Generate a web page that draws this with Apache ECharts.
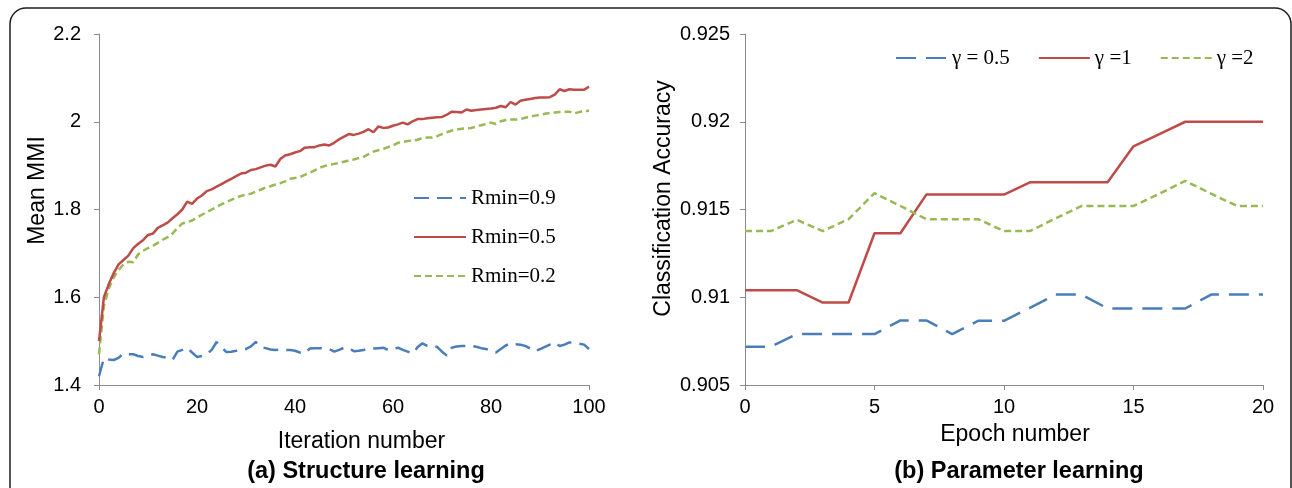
<!DOCTYPE html>
<html>
<head>
<meta charset="utf-8">
<script src="https://cdn.jsdelivr.net/npm/echarts@6/dist/echarts.min.js"></script>
<style>
  html, body { margin: 0; padding: 0; background: #fff; }
  #chart { width: 1292px; height: 488px; }
</style>
</head>
<body>
<div id="chart"></div>
<script>
// (a) Structure learning: mean MMI per iteration, 0..100
const iterations = Array.from({ length: 101 }, (_, i) => String(i));

const rmin09 = [
  1.420, 1.461, 1.458, 1.457, 1.462, 1.472, 1.470, 1.470, 1.466, 1.464,
  1.466, 1.470, 1.467, 1.464, 1.462, 1.457, 1.476, 1.480, 1.485, 1.474,
  1.464, 1.466, 1.470, 1.480, 1.498, 1.486, 1.475, 1.476, 1.478, 1.481,
  1.482, 1.488, 1.498, 1.487, 1.484, 1.481, 1.480, 1.481, 1.480, 1.480,
  1.478, 1.474, 1.472, 1.483, 1.484, 1.484, 1.483, 1.482, 1.476, 1.480,
  1.485, 1.484, 1.477, 1.478, 1.480, 1.482, 1.483, 1.484, 1.485, 1.480,
  1.482, 1.485, 1.480, 1.476, 1.472, 1.486, 1.495, 1.489, 1.488, 1.487,
  1.476, 1.467, 1.485, 1.488, 1.489, 1.489, 1.489, 1.487, 1.484, 1.482,
  1.478, 1.474, 1.482, 1.490, 1.495, 1.493, 1.492, 1.489, 1.483, 1.477,
  1.482, 1.487, 1.492, 1.497, 1.489, 1.492, 1.497, 1.496, 1.494, 1.492,
  1.482
];

const rmin05 = [
  1.500, 1.600, 1.630, 1.655, 1.675, 1.685, 1.695, 1.712, 1.722, 1.730,
  1.742, 1.745, 1.758, 1.764, 1.770, 1.780, 1.789, 1.800, 1.818, 1.813,
  1.825, 1.832, 1.842, 1.846, 1.852, 1.858, 1.864, 1.870, 1.876, 1.882,
  1.884, 1.890, 1.892, 1.896, 1.900, 1.902, 1.898, 1.915, 1.923, 1.926,
  1.930, 1.933, 1.941, 1.942, 1.942, 1.946, 1.948, 1.946, 1.952, 1.960,
  1.966, 1.972, 1.970, 1.973, 1.977, 1.983, 1.976, 1.989, 1.986, 1.987,
  1.991, 1.994, 1.998, 1.994, 2.001, 2.006, 2.006, 2.008, 2.009, 2.010,
  2.011, 2.016, 2.023, 2.022, 2.021, 2.028, 2.025, 2.027, 2.028, 2.029,
  2.030, 2.032, 2.036, 2.033, 2.045, 2.039, 2.048, 2.050, 2.052, 2.054,
  2.055, 2.055, 2.056, 2.062, 2.074, 2.070, 2.074, 2.073, 2.073, 2.073,
  2.080
];

const rmin02 = [
  1.470, 1.580, 1.620, 1.645, 1.662, 1.675, 1.681, 1.680, 1.698, 1.706,
  1.712, 1.717, 1.724, 1.731, 1.737, 1.745, 1.758, 1.768, 1.771, 1.775,
  1.782, 1.788, 1.794, 1.800, 1.806, 1.812, 1.817, 1.822, 1.827, 1.831,
  1.834, 1.836, 1.841, 1.845, 1.850, 1.853, 1.857, 1.860, 1.864, 1.870,
  1.872, 1.874, 1.879, 1.884, 1.889, 1.895, 1.899, 1.902, 1.904, 1.906,
  1.909, 1.912, 1.914, 1.917, 1.920, 1.926, 1.932, 1.935, 1.938, 1.942,
  1.946, 1.952, 1.954, 1.956, 1.957, 1.959, 1.963, 1.964, 1.964, 1.967,
  1.972, 1.976, 1.980, 1.982, 1.984, 1.985, 1.986, 1.989, 1.992, 1.995,
  1.998, 1.995, 2.001, 2.004, 2.005, 2.005, 2.006, 2.009, 2.012, 2.014,
  2.016, 2.018, 2.020, 2.021, 2.022, 2.023, 2.023, 2.019, 2.022, 2.024,
  2.025
];

// (b) Parameter learning: classification accuracy per epoch, 0..20
const epochs = [0, 1, 2, 3, 4, 5, 6, 7, 8, 9, 10, 11, 12, 13, 14, 15, 16, 17, 18, 19, 20];
const gamma05 = [
  0.90718, 0.90718, 0.90790, 0.90790, 0.90790, 0.90790, 0.90868, 0.90868, 0.90790, 0.90866,
  0.90866, 0.90940, 0.91015, 0.91015, 0.90936, 0.90936, 0.90936, 0.90936, 0.91015, 0.91015,
  0.91015
];
const gamma1 = [
  0.91040, 0.91040, 0.91040, 0.90970, 0.90970, 0.91365, 0.91365, 0.91585, 0.91585, 0.91585,
  0.91585, 0.91655, 0.91655, 0.91655, 0.91655, 0.91860, 0.91930, 0.92000, 0.92000, 0.92000,
  0.92000
];
const gamma2 = [
  0.91377, 0.91377, 0.91441, 0.91377, 0.91445, 0.91593, 0.91520, 0.91445, 0.91445, 0.91445,
  0.91377, 0.91377, 0.91450, 0.91520, 0.91520, 0.91520, 0.91590, 0.91663, 0.91590, 0.91520,
  0.91520
];

const leftNames = ['Rmin=0.9', 'Rmin=0.5', 'Rmin=0.2'];
const rightNames = ['\u03b3 = 0.5', '\u03b3 =1', '\u03b3 =2'];

const BLUE = '#4a7ebb';
const RED = '#be4b48';
const GREEN = '#98b954';
const AXIS_GREY = '#8c8c8c';
const SANS = '"Liberation Sans", Arial, sans-serif';
const SERIF = '"Liberation Serif", "Times New Roman", serif';

const tickFont = { color: '#000', fontFamily: SANS, fontSize: 20 };
const nameFont = { color: '#000', fontFamily: SANS, fontSize: 23 };
const titleFont = { fontFamily: SANS, fontSize: 23.5, fontWeight: 'bold', color: '#000' };
const legendFont = { fontFamily: SERIF, fontSize: 21, color: '#000', lineHeight: 22 };
const axisLine = { show: true, lineStyle: { color: AXIS_GREY, width: 1 } };
const axisTick = { show: true, inside: false, length: 5, lineStyle: { color: AXIS_GREY, width: 1 } };

const pair = (xs, ys) => xs.map((x, i) => [x, ys[i]]);

const chart = echarts.init(document.getElementById('chart'), null, { renderer: 'canvas' });

chart.setOption({
  animation: false,
  backgroundColor: '#fff',
  title: [
    { text: '(a) Structure learning', left: 366, top: 460, textAlign: 'center', padding: 0, textStyle: titleFont },
    { text: '(b) Parameter learning', left: 1019, top: 460, textAlign: 'center', padding: 0, textStyle: titleFont }
  ],
  legend: [
    {
      data: leftNames, orient: 'vertical', left: 413, top: 187, padding: 0,
      itemWidth: 52, itemHeight: 14, itemGap: 17,
      itemStyle: { opacity: 0 },
      textStyle: legendFont
    },
    {
      data: rightNames, orient: 'horizontal', left: 895, top: 47, padding: 0,
      itemWidth: 51, itemHeight: 14, itemGap: 28,
      itemStyle: { opacity: 0 },
      textStyle: legendFont
    }
  ],
  grid: [
    { left: 99, top: 34, width: 490, height: 351 },
    { left: 745, top: 34, width: 518, height: 351 }
  ],
  xAxis: [
    {
      gridIndex: 0, type: 'category', data: iterations, boundaryGap: false,
      name: 'Iteration number', nameLocation: 'middle', nameGap: 45,
      nameTextStyle: Object.assign({ padding: [0, 0, 0, 35] }, nameFont),
      axisLine: axisLine,
      axisTick: Object.assign({}, axisTick, { interval: 99 }),
      axisLabel: Object.assign({ margin: 12, interval: 19 }, tickFont),
      splitLine: { show: false }
    },
    {
      gridIndex: 1, type: 'value', min: 0, max: 20, interval: 5,
      name: 'Epoch number', nameLocation: 'middle', nameGap: 38,
      nameTextStyle: Object.assign({ padding: [0, 0, 0, 22] }, nameFont),
      axisLine: axisLine, axisTick: axisTick,
      axisLabel: Object.assign({ margin: 12 }, tickFont),
      splitLine: { show: false }
    }
  ],
  yAxis: [
    {
      gridIndex: 0, type: 'value', min: 1.4, max: 2.2, interval: 0.2,
      name: 'Mean MMI', nameLocation: 'middle', nameGap: 47, nameRotate: 90,
      nameTextStyle: Object.assign({ padding: [0, 0, 0, 38] }, nameFont),
      axisLine: axisLine, axisTick: axisTick,
      axisLabel: Object.assign({ margin: 18 }, tickFont),
      splitLine: { show: false }
    },
    {
      gridIndex: 1, type: 'value', min: 0.905, max: 0.925, interval: 0.005,
      name: 'Classification Accuracy', nameLocation: 'middle', nameGap: 70, nameRotate: 90,
      nameTextStyle: Object.assign({ padding: [0, 0, 0, 22] }, nameFont),
      axisLine: axisLine, axisTick: axisTick,
      axisLabel: Object.assign({ margin: 15 }, tickFont),
      splitLine: { show: false }
    }
  ],
  graphic: [
    {
      // rounded frame around the figure
      type: 'rect', silent: true, z: -1,
      shape: { x: 10, y: 8, width: 1281, height: 520, r: 16 },
      style: { fill: 'none', stroke: '#1e1e1e', lineWidth: 1.5 }
    }
  ],
  series: [
    {
      name: leftNames[0], type: 'line', xAxisIndex: 0, yAxisIndex: 0, data: rmin09,
      symbol: 'none', color: BLUE, lineStyle: { color: BLUE, width: 2.5, type: [15, 8] }, z: 2
    },
    {
      name: leftNames[1], type: 'line', xAxisIndex: 0, yAxisIndex: 0, data: rmin05,
      symbol: 'none', color: RED, lineStyle: { color: RED, width: 2.5, type: 'solid' }, z: 3
    },
    {
      name: leftNames[2], type: 'line', xAxisIndex: 0, yAxisIndex: 0, data: rmin02,
      symbol: 'none', color: GREEN, lineStyle: { color: GREEN, width: 2.5, type: [7, 4] }, z: 2
    },
    {
      name: rightNames[0], type: 'line', xAxisIndex: 1, yAxisIndex: 1, data: pair(epochs, gamma05),
      symbol: 'none', color: BLUE, lineStyle: { color: BLUE, width: 2.5, type: [20, 10] }
    },
    {
      name: rightNames[1], type: 'line', xAxisIndex: 1, yAxisIndex: 1, data: pair(epochs, gamma1),
      symbol: 'none', color: RED, lineStyle: { color: RED, width: 2.5, type: 'solid' }
    },
    {
      name: rightNames[2], type: 'line', xAxisIndex: 1, yAxisIndex: 1, data: pair(epochs, gamma2),
      symbol: 'none', color: GREEN, lineStyle: { color: GREEN, width: 2.5, type: [7, 4] }
    }
  ]
});
</script>
</body>
</html>
